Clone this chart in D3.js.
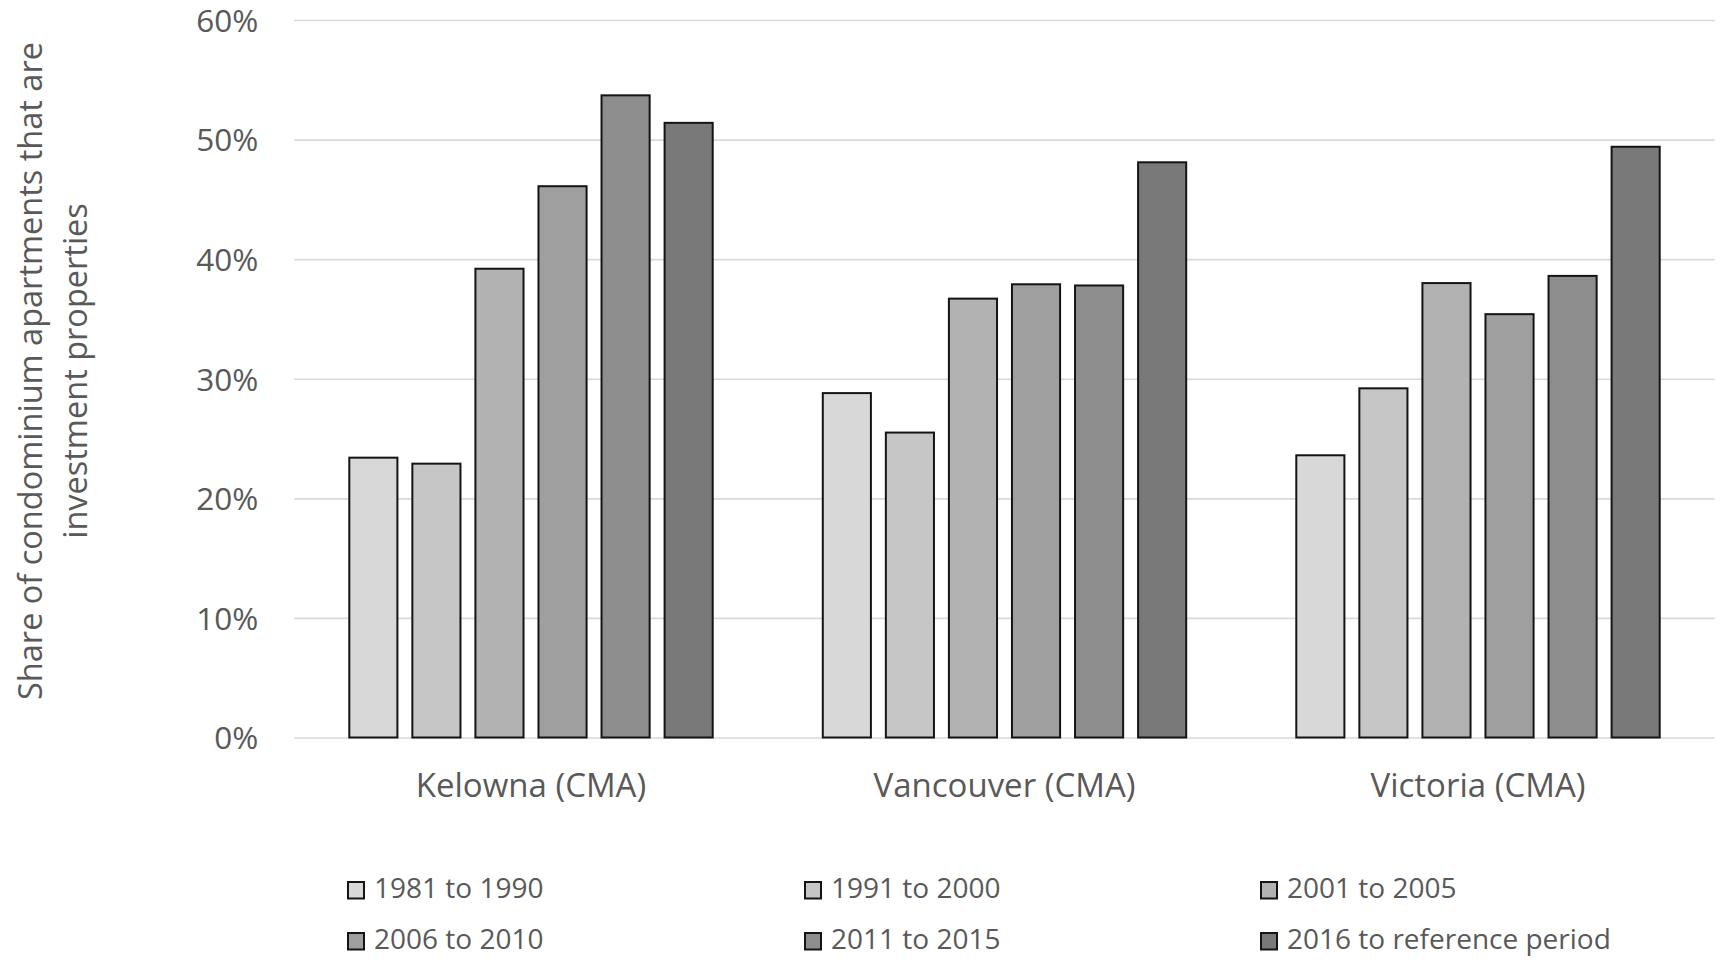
<!DOCTYPE html>
<html>
<head>
<meta charset="utf-8">
<script src="https://cdn.jsdelivr.net/npm/d3@7"></script>
<style>
  html, body { margin: 0; padding: 0; background: #ffffff; }
  svg { display: block; font-family: "Open Sans", "Noto Sans", sans-serif; }
</style>
</head>
<body>
<svg id="chart" width="1722" height="965"></svg>
<script>
// Census metropolitan areas shown as groups
const regions = ["Kelowna (CMA)", "Vancouver (CMA)", "Victoria (CMA)"];

// Period of construction, one bar per period in each group
const periods = [
  "1981 to 1990",
  "1991 to 2000",
  "2001 to 2005",
  "2006 to 2010",
  "2011 to 2015",
  "2016 to reference period"
];

// Share of condominium apartments that are investment properties (%)
const kelowna   = [23.4, 22.9, 39.2, 46.1, 53.7, 51.4];
const vancouver = [28.8, 25.5, 36.7, 37.9, 37.8, 48.1];
const victoria  = [23.6, 29.2, 38.0, 35.4, 38.6, 49.4];

const yTicks = [0, 10, 20, 30, 40, 50, 60];

const fills = ["#d8d8d8", "#c6c6c6", "#b2b2b2", "#9f9f9f", "#8d8d8d", "#797979"];

const seriesByRegion = [kelowna, vancouver, victoria];
const rows = regions.map((r, i) => ({
  region: r,
  values: periods.map((p, j) => ({ period: p, value: seriesByRegion[i][j] }))
}));

const svg = d3.select("#chart");
const textColor = "#595959";
const fontStack = '"Open Sans", "Noto Sans", sans-serif';

const plotLeft = 294.25, plotRight = 1714.75, plotTop = 20, plotBottom = 737.5;

const y = d3.scaleLinear().domain([0, 60]).range([plotBottom, plotTop]);

const x0 = d3.scaleBand()
  .domain(regions)
  .range([plotLeft, plotRight])
  .paddingInner(0.2325)
  .paddingOuter(0.11625);

const x1 = d3.scaleBand()
  .domain(periods)
  .range([0, x0.bandwidth()])
  .paddingInner(0.237);

const color = d3.scaleOrdinal().domain(periods).range(fills);

// Horizontal gridlines with percentage labels
const yAxis = d3.axisLeft(y)
  .tickValues(yTicks)
  .tickSize(-(plotRight - plotLeft))
  .tickPadding(36)
  .tickFormat(d => d + "%");

const gy = svg.append("g")
  .attr("transform", `translate(${plotLeft},0)`)
  .call(yAxis)
  .attr("font-family", fontStack)
  .attr("font-size", 31.5);
gy.select(".domain").remove();
gy.selectAll(".tick line")
  .attr("stroke", "#d9d9d9")
  .attr("stroke-width", 1.6);
gy.selectAll(".tick text")
  .attr("fill", textColor)
  .attr("dy", "0.36em");

// Bars
const groups = svg.append("g")
  .selectAll("g")
  .data(rows)
  .join("g")
  .attr("transform", d => `translate(${x0(d.region)},0)`);

groups.selectAll("rect")
  .data(d => d.values)
  .join("rect")
  .attr("x", d => x1(d.period))
  .attr("width", x1.bandwidth())
  .attr("y", d => y(d.value))
  .attr("height", d => y(0) - y(d.value))
  .attr("fill", d => color(d.period))
  .attr("stroke", "#141414")
  .attr("stroke-width", 2);

// Category labels
const xAxis = d3.axisBottom(x0).tickSize(0).tickPadding(36);
const gx = svg.append("g")
  .attr("transform", `translate(0,${plotBottom})`)
  .call(xAxis)
  .attr("font-family", fontStack)
  .attr("font-size", 33);
gx.select(".domain").remove();
gx.selectAll(".tick text")
  .attr("fill", textColor);

// Y axis title, two lines
const title = svg.append("text")
  .attr("transform", "translate(42,371) rotate(-90)")
  .attr("text-anchor", "middle")
  .attr("fill", textColor)
  .attr("font-size", 32.5);
title.append("tspan").attr("x", 0).attr("y", 0)
  .text("Share of condominium apartments that are");
title.append("tspan").attr("x", 0).attr("y", 45)
  .text("investment properties");

// Legend: three columns, two rows
const colX = [347, 804, 1260];
const rowY = [881, 932];
const legend = svg.append("g")
  .selectAll("g")
  .data(periods)
  .join("g")
  .attr("transform", (d, i) => `translate(${colX[i % 3]},${rowY[Math.floor(i / 3)]})`);

legend.append("rect")
  .attr("x", 1).attr("y", 1)
  .attr("width", 16).attr("height", 16.5)
  .attr("fill", d => color(d))
  .attr("stroke", "#141414")
  .attr("stroke-width", 2);

legend.append("text")
  .attr("x", 27)
  .attr("y", 17)
  .attr("fill", textColor)
  .attr("font-size", 28)
  .text(d => d);
</script>
</body>
</html>
